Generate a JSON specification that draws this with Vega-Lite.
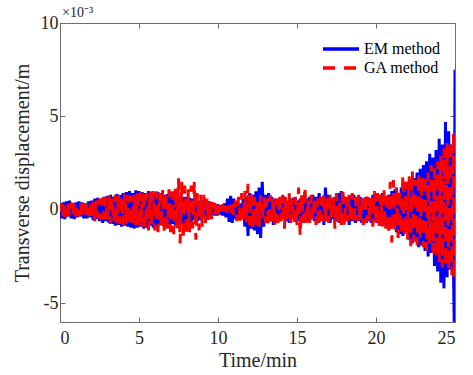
{
"$schema": "https://vega.github.io/schema/vega-lite/v6.json",
"autosize": {"type": "none"},
"padding": {"left": 60, "top": 23, "right": 18, "bottom": 53},
"width": 395,
"height": 299,
"background": "white",
"config": {
  "font": "Liberation Serif",
  "view": {"stroke": "#6e6e6e", "strokeWidth": 1},
  "axis": {"grid": false, "domainColor": "#6e6e6e", "tickColor": "#6e6e6e", "tickSize": -5, "labelFont": "Liberation Serif", "labelFontSize": 18, "labelColor": "#262626", "titleFont": "Liberation Serif", "titleFontSize": 20, "titleFontWeight": "normal", "titleColor": "#262626"},
  "legend": {"orient": "top-right", "offset": 15, "padding": 0, "labelFont": "Liberation Serif", "labelFontSize": 16, "labelColor": "#000000", "titleFont": "Liberation Serif", "symbolType": "M-2,0H2", "symbolSize": 324, "symbolStrokeWidth": 3.5, "labelOffset": 12, "rowPadding": -8}
},
"title": {"text": "×10⁻³", "anchor": "start", "frame": "group", "fontSize": 14, "fontWeight": "normal", "font": "Liberation Serif", "color": "#262626", "offset": -6, "dx": 2},
"data": {"values": [
{"t":0.0,"EM":0.1,"GA":-0.1},{"t":0.1,"EM":-0.45,"GA":0.35},{"t":0.2,"EM":0.4,"GA":-0.35},{"t":0.3,"EM":-0.5,"GA":0.4},{"t":0.4,"EM":0.45,"GA":-0.4},{"t":0.5,"EM":-0.35,"GA":0.3},{"t":0.6,"EM":0.5,"GA":-0.35},{"t":0.7,"EM":-0.45,"GA":0.4},{"t":0.8,"EM":0.35,"GA":-0.3},{"t":0.9,"EM":-0.5,"GA":0.35},
{"t":1.0,"EM":0.4,"GA":-0.35},{"t":1.1,"EM":-0.4,"GA":0.3},{"t":1.2,"EM":0.45,"GA":-0.35},{"t":1.3,"EM":-0.35,"GA":0.4},{"t":1.4,"EM":0.4,"GA":-0.3},{"t":1.5,"EM":-0.45,"GA":0.35},{"t":1.6,"EM":0.35,"GA":-0.4},{"t":1.7,"EM":-0.45,"GA":0.35},{"t":1.8,"EM":0.45,"GA":-0.35},{"t":1.9,"EM":-0.4,"GA":0.45},
{"t":2.0,"EM":0.5,"GA":-0.5},{"t":2.1,"EM":-0.55,"GA":0.45},{"t":2.2,"EM":0.6,"GA":-0.6},{"t":2.3,"EM":-0.5,"GA":0.5},{"t":2.4,"EM":0.65,"GA":-0.45},{"t":2.5,"EM":-0.6,"GA":0.6},{"t":2.6,"EM":0.55,"GA":-0.55},{"t":2.7,"EM":-0.7,"GA":0.65},{"t":2.8,"EM":0.7,"GA":-0.5},{"t":2.9,"EM":-0.6,"GA":0.7},
{"t":3.0,"EM":0.75,"GA":-0.7},{"t":3.1,"EM":-0.7,"GA":0.75},{"t":3.2,"EM":0.8,"GA":-0.75},{"t":3.3,"EM":-0.75,"GA":0.7},{"t":3.4,"EM":0.7,"GA":-0.7},{"t":3.5,"EM":-0.85,"GA":0.8},{"t":3.6,"EM":0.85,"GA":-0.7},{"t":3.7,"EM":-0.8,"GA":0.85},{"t":3.8,"EM":0.8,"GA":-0.75},{"t":3.9,"EM":-0.9,"GA":0.75},
{"t":4.0,"EM":0.9,"GA":-0.8},{"t":4.1,"EM":-0.85,"GA":0.85},{"t":4.2,"EM":0.95,"GA":-0.75},{"t":4.3,"EM":-0.9,"GA":0.8},{"t":4.4,"EM":1.0,"GA":-0.85},{"t":4.5,"EM":-0.95,"GA":0.75},{"t":4.6,"EM":0.9,"GA":-0.8},{"t":4.7,"EM":-1.0,"GA":0.8},{"t":4.8,"EM":1.05,"GA":-0.8},{"t":4.9,"EM":-0.95,"GA":0.9},
{"t":5.0,"EM":1.0,"GA":-1.0},{"t":5.1,"EM":-0.9,"GA":0.95},{"t":5.2,"EM":0.95,"GA":-0.9},{"t":5.3,"EM":-1.0,"GA":1.05},{"t":5.4,"EM":0.9,"GA":-1.0},{"t":5.5,"EM":-0.95,"GA":0.9},{"t":5.6,"EM":1.0,"GA":-1.1},{"t":5.7,"EM":-0.85,"GA":1.0},{"t":5.8,"EM":0.9,"GA":-0.95},{"t":5.9,"EM":-0.95,"GA":1.0},
{"t":6.0,"EM":0.85,"GA":-1.1},{"t":6.1,"EM":-0.9,"GA":1.0},{"t":6.2,"EM":0.95,"GA":-1.2},{"t":6.3,"EM":-0.8,"GA":0.9},{"t":6.4,"EM":0.9,"GA":-1.0},{"t":6.5,"EM":-0.85,"GA":1.1},{"t":6.6,"EM":0.8,"GA":-1.3},{"t":6.7,"EM":-0.9,"GA":0.95},{"t":6.8,"EM":0.85,"GA":-1.0},{"t":6.9,"EM":-0.8,"GA":1.1},
{"t":7.0,"EM":0.8,"GA":-1.2},{"t":7.1,"EM":-0.75,"GA":1.0},{"t":7.2,"EM":0.7,"GA":-1.3},{"t":7.3,"EM":-0.85,"GA":1.2},{"t":7.4,"EM":0.8,"GA":-1.0},{"t":7.5,"EM":-0.7,"GA":1.7},{"t":7.6,"EM":0.75,"GA":-1.8},{"t":7.7,"EM":-0.8,"GA":1.5},{"t":7.8,"EM":0.7,"GA":-1.6},{"t":7.9,"EM":-0.75,"GA":1.3},
{"t":8.0,"EM":0.7,"GA":-1.4},{"t":8.1,"EM":-0.6,"GA":1.1},{"t":8.2,"EM":0.65,"GA":-1.2},{"t":8.3,"EM":-0.7,"GA":1.3},{"t":8.4,"EM":0.6,"GA":-1.0},{"t":8.5,"EM":-0.55,"GA":1.5},{"t":8.6,"EM":0.65,"GA":-1.6},{"t":8.7,"EM":-0.6,"GA":0.9},{"t":8.8,"EM":0.5,"GA":-1.1},{"t":8.9,"EM":-0.55,"GA":0.8},
{"t":9.0,"EM":0.5,"GA":-0.9},{"t":9.1,"EM":-0.45,"GA":0.8},{"t":9.2,"EM":0.4,"GA":-0.7},{"t":9.3,"EM":-0.5,"GA":0.6},{"t":9.4,"EM":0.45,"GA":-0.6},{"t":9.5,"EM":-0.35,"GA":0.5},{"t":9.6,"EM":0.4,"GA":-0.5},{"t":9.7,"EM":-0.3,"GA":0.4},{"t":9.8,"EM":0.35,"GA":-0.3},{"t":9.9,"EM":-0.3,"GA":0.3},
{"t":10.0,"EM":0.3,"GA":-0.3},{"t":10.1,"EM":-0.25,"GA":0.25},{"t":10.2,"EM":0.2,"GA":-0.2},{"t":10.3,"EM":-0.3,"GA":0.3},{"t":10.4,"EM":0.35,"GA":-0.25},{"t":10.5,"EM":-0.4,"GA":0.2},{"t":10.6,"EM":0.6,"GA":-0.3},{"t":10.7,"EM":-0.65,"GA":0.25},{"t":10.8,"EM":0.75,"GA":-0.2},{"t":10.9,"EM":-0.7,"GA":0.3},
{"t":11.0,"EM":0.6,"GA":-0.3},{"t":11.1,"EM":-0.5,"GA":0.5},{"t":11.2,"EM":0.4,"GA":-0.6},{"t":11.3,"EM":-0.3,"GA":0.7},{"t":11.4,"EM":0.35,"GA":-0.8},{"t":11.5,"EM":-0.5,"GA":0.9},{"t":11.6,"EM":0.6,"GA":-0.6},{"t":11.7,"EM":-0.9,"GA":1.0},{"t":11.8,"EM":0.7,"GA":-0.7},{"t":11.9,"EM":-1.4,"GA":1.4},
{"t":12.0,"EM":0.9,"GA":-0.8},{"t":12.1,"EM":-1.0,"GA":0.9},{"t":12.2,"EM":0.8,"GA":-1.0},{"t":12.3,"EM":-1.1,"GA":0.7},{"t":12.4,"EM":1.0,"GA":-0.8},{"t":12.5,"EM":-1.3,"GA":0.6},{"t":12.6,"EM":1.2,"GA":-0.9},{"t":12.7,"EM":-1.5,"GA":0.8},{"t":12.8,"EM":1.5,"GA":-0.6},{"t":12.9,"EM":-0.9,"GA":0.7},
{"t":13.0,"EM":0.8,"GA":-0.7},{"t":13.1,"EM":-0.7,"GA":0.6},{"t":13.2,"EM":0.9,"GA":-0.9},{"t":13.3,"EM":-0.6,"GA":0.8},{"t":13.4,"EM":0.7,"GA":-0.6},{"t":13.5,"EM":-0.8,"GA":0.7},{"t":13.6,"EM":0.6,"GA":-0.8},{"t":13.7,"EM":-0.7,"GA":0.6},{"t":13.8,"EM":0.5,"GA":-0.7},{"t":13.9,"EM":-0.6,"GA":0.9},
{"t":14.0,"EM":0.6,"GA":-0.6},{"t":14.1,"EM":-0.5,"GA":0.8},{"t":14.2,"EM":0.7,"GA":-1.0},{"t":14.3,"EM":-0.6,"GA":0.7},{"t":14.4,"EM":0.5,"GA":-0.6},{"t":14.5,"EM":-0.7,"GA":0.9},{"t":14.6,"EM":0.6,"GA":-0.7},{"t":14.7,"EM":-0.5,"GA":0.6},{"t":14.8,"EM":0.65,"GA":-0.8},{"t":14.9,"EM":-0.6,"GA":0.7},
{"t":15.0,"EM":0.5,"GA":-0.8},{"t":15.1,"EM":-0.6,"GA":1.2},{"t":15.2,"EM":0.6,"GA":-1.4},{"t":15.3,"EM":-0.7,"GA":0.9},{"t":15.4,"EM":0.7,"GA":-0.7},{"t":15.5,"EM":-0.5,"GA":1.25},{"t":15.6,"EM":0.6,"GA":-0.8},{"t":15.7,"EM":-0.6,"GA":0.6},{"t":15.8,"EM":0.7,"GA":-0.7},{"t":15.9,"EM":-0.5,"GA":0.8},
{"t":16.0,"EM":0.8,"GA":-0.6},{"t":16.1,"EM":-0.6,"GA":0.7},{"t":16.2,"EM":0.7,"GA":-0.8},{"t":16.3,"EM":-0.7,"GA":0.6},{"t":16.4,"EM":0.9,"GA":-0.9},{"t":16.5,"EM":-0.6,"GA":0.7},{"t":16.6,"EM":0.7,"GA":-0.6},{"t":16.7,"EM":-0.8,"GA":0.8},{"t":16.8,"EM":1.2,"GA":-0.7},{"t":16.9,"EM":-0.6,"GA":0.6},
{"t":17.0,"EM":0.8,"GA":-0.7},{"t":17.1,"EM":-0.7,"GA":0.8},{"t":17.2,"EM":0.6,"GA":-0.6},{"t":17.3,"EM":-0.5,"GA":0.7},{"t":17.4,"EM":0.7,"GA":-1.0},{"t":17.5,"EM":-0.6,"GA":0.9},{"t":17.6,"EM":0.9,"GA":-0.7},{"t":17.7,"EM":-0.7,"GA":0.6},{"t":17.8,"EM":1.0,"GA":-0.8},{"t":17.9,"EM":-0.6,"GA":1.2},
{"t":18.0,"EM":0.7,"GA":-0.9},{"t":18.1,"EM":-0.6,"GA":0.7},{"t":18.2,"EM":0.6,"GA":-0.6},{"t":18.3,"EM":-0.8,"GA":0.8},{"t":18.4,"EM":0.7,"GA":-0.7},{"t":18.5,"EM":-0.6,"GA":0.9},{"t":18.6,"EM":0.8,"GA":-0.8},{"t":18.7,"EM":-0.7,"GA":0.7},{"t":18.8,"EM":0.6,"GA":-0.6},{"t":18.9,"EM":-0.6,"GA":0.8},
{"t":19.0,"EM":0.7,"GA":-0.7},{"t":19.1,"EM":-0.7,"GA":0.6},{"t":19.2,"EM":0.6,"GA":-0.8},{"t":19.3,"EM":-0.5,"GA":0.9},{"t":19.4,"EM":0.7,"GA":-0.7},{"t":19.5,"EM":-0.6,"GA":0.7},{"t":19.6,"EM":0.6,"GA":-0.6},{"t":19.7,"EM":-0.7,"GA":0.8},{"t":19.8,"EM":0.8,"GA":-0.9},{"t":19.9,"EM":-0.6,"GA":1.0},
{"t":20.0,"EM":0.7,"GA":-0.8},{"t":20.1,"EM":-0.7,"GA":0.9},{"t":20.2,"EM":0.8,"GA":-1.0},{"t":20.3,"EM":-0.6,"GA":0.8},{"t":20.4,"EM":0.9,"GA":-0.9},{"t":20.5,"EM":-0.8,"GA":1.2},{"t":20.6,"EM":0.7,"GA":-1.1},{"t":20.7,"EM":-0.9,"GA":1.0},{"t":20.8,"EM":0.8,"GA":-1.3},{"t":20.9,"EM":-1.0,"GA":1.5},
{"t":21.0,"EM":1.0,"GA":-1.75},{"t":21.1,"EM":-0.9,"GA":1.6},{"t":21.2,"EM":1.1,"GA":-1.2},{"t":21.3,"EM":-1.2,"GA":1.3},{"t":21.4,"EM":0.9,"GA":-1.5},{"t":21.5,"EM":-1.3,"GA":1.1},{"t":21.6,"EM":1.2,"GA":-1.3},{"t":21.7,"EM":-1.4,"GA":1.9},{"t":21.8,"EM":1.3,"GA":-1.4},{"t":21.9,"EM":-1.2,"GA":1.5},
{"t":22.0,"EM":1.5,"GA":-1.6},{"t":22.1,"EM":-1.6,"GA":1.8},{"t":22.2,"EM":1.3,"GA":-1.95},{"t":22.3,"EM":-1.8,"GA":2.1},{"t":22.4,"EM":1.7,"GA":-1.7},{"t":22.5,"EM":-1.5,"GA":1.6},{"t":22.6,"EM":2.0,"GA":-1.9},{"t":22.7,"EM":-2.0,"GA":2.0},{"t":22.8,"EM":2.2,"GA":-1.5},{"t":22.9,"EM":-1.9,"GA":1.8},
{"t":23.0,"EM":2.4,"GA":-2.0},{"t":23.1,"EM":-2.2,"GA":1.9},{"t":23.2,"EM":2.6,"GA":-2.2},{"t":23.3,"EM":-2.5,"GA":2.0},{"t":23.4,"EM":3.0,"GA":-1.8},{"t":23.5,"EM":-2.3,"GA":2.4},{"t":23.6,"EM":2.8,"GA":-2.3},{"t":23.7,"EM":-3.0,"GA":2.2},{"t":23.8,"EM":3.2,"GA":-2.5},{"t":23.9,"EM":-3.3,"GA":2.6},
{"t":24.0,"EM":3.8,"GA":-2.8},{"t":24.1,"EM":-3.9,"GA":2.9},{"t":24.2,"EM":3.5,"GA":-3.1},{"t":24.3,"EM":-4.2,"GA":3.3},{"t":24.4,"EM":4.7,"GA":-3.0},{"t":24.5,"EM":-3.6,"GA":3.6},{"t":24.6,"EM":4.2,"GA":-3.2},{"t":24.7,"EM":-3.2,"GA":3.7},{"t":24.8,"EM":3.5,"GA":-3.5},{"t":24.9,"EM":-3.0,"GA":4.1},
{"t":24.95,"EM":-6.0,"GA":-3.7},{"t":25.0,"EM":7.5,"GA":0.5}
]},
"transform": [{"fold": ["EM", "GA"], "as": ["series", "v"]}],
"layer": [
  {
    "mark": {"type": "line", "strokeWidth": 3, "clip": true},
    "encoding": {
      "x": {"field": "t", "type": "quantitative", "scale": {"domain": [0, 25], "nice": false}, "axis": {"values": [0, 5, 10, 15, 20, 25], "title": "Time/min", "labelPadding": 12, "titlePadding": 3}},
      "y": {"field": "v", "type": "quantitative", "scale": {"domain": [-6, 10], "nice": false}, "axis": {"values": [-5, 0, 5, 10], "labelExpr": "'' + datum.value", "title": "Transverse displacement/m", "labelPadding": 7, "titlePadding": 8}},
      "color": {"field": "series", "type": "nominal", "scale": {"domain": ["EM", "GA"], "range": ["#0000ff", "#ff0000"]}, "legend": {"title": null, "labelExpr": "datum.label + ' method'", "encode": {"labels": {"update": {"font": {"value": "Liberation Serif"}, "fontSize": {"value": 16}}}}}},
      "strokeDash": {"field": "series", "type": "nominal", "scale": {"domain": ["EM", "GA"], "range": [[1, 0], [12, 9]]}, "legend": {"title": null, "labelExpr": "datum.label + ' method'", "encode": {"labels": {"update": {"font": {"value": "Liberation Serif"}, "fontSize": {"value": 16}}}}}}
    }
  },
  {
    "mark": {"type": "point", "opacity": 0},
    "encoding": {
      "x": {"field": "t", "type": "quantitative", "scale": {"domain": [0, 25], "nice": false}, "axis": {"orient": "top", "values": [0, 5, 10, 15, 20, 25], "labels": false, "title": null}},
      "y": {"field": "v", "type": "quantitative", "scale": {"domain": [-6, 10], "nice": false}, "axis": {"orient": "right", "values": [-5, 0, 5, 10], "labels": false, "title": null}}
    }
  }
],
"resolve": {"axis": {"x": "independent", "y": "independent"}}
}
